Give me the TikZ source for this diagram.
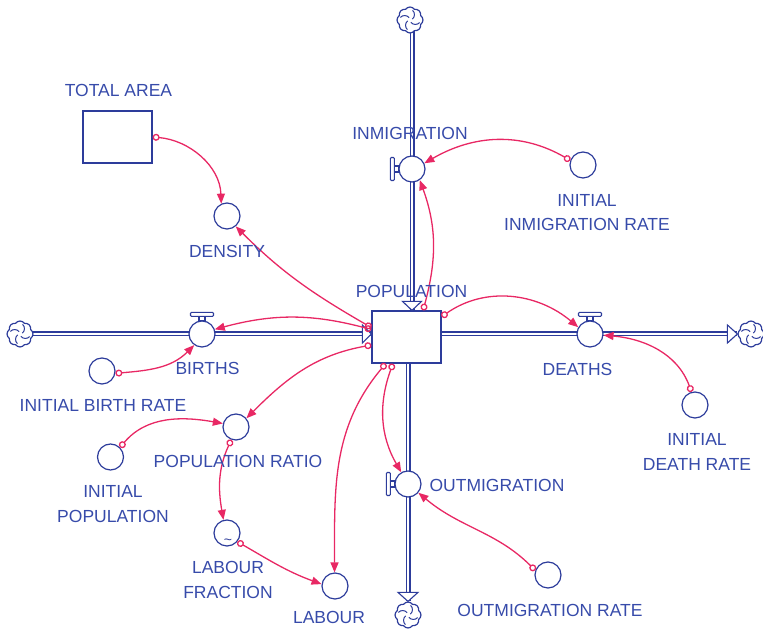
\documentclass[tikz,border=0pt]{standalone}
\usepackage{fontspec}
\setmainfont{Liberation Sans}
\usetikzlibrary{arrows.meta,shapes.symbols,calc}
\definecolor{sdblue}{RGB}{45,60,155}
\definecolor{sdtext}{RGB}{55,75,170}
\definecolor{sdpink}{RGB}{232,40,100}
\pgfdeclarelayer{background}
\pgfsetlayers{background,main}

\begin{document}
\begin{tikzpicture}[x=1pt,y=1pt,
  lbl/.style={text=sdtext, font=\fontsize{17.5}{24.5}\selectfont, inner sep=0pt, align=center},
  stockbox/.style={draw=sdblue, fill=white, line width=1.2pt, minimum width=69pt, minimum height=52pt, inner sep=0pt},
  aux/.style={circle, draw=sdblue, fill=white, line width=1.2pt, minimum size=26pt, inner sep=0pt},
  handle/.style={draw=sdblue, fill=white, line width=1.1pt},
  pipe/.style={draw=sdblue, line width=1.1pt, double=white, double distance=2.8pt},
  flowhead/.style={draw=sdblue, fill=white, line width=1.1pt, line join=miter},
  sink/.style={cloud, cloud puffs=8, cloud puff arc=110, aspect=1, draw=sdblue, fill=white, line width=1.2pt,
    minimum width=26pt, minimum height=26pt, inner sep=0pt,
    path picture={
      \foreach \a in {20,110,200,290}{
        \draw[sdblue, line width=1pt]
          ($(path picture bounding box.center)+(\a:2.5pt)$) to[bend right=50]
          ($(path picture bounding box.center)+(\a+55:10pt)$);
      }}},
  link/.style={draw=sdpink, line width=1.3pt,
    {Circle[open,length=7pt,width=7pt]}-{Triangle[length=10pt,width=8pt]}},
]
\useasboundingbox (0,0) rectangle (763,631);

% stocks
\node[stockbox] (pop) at (406.5,294) {};
\node[stockbox] (tarea) at (117.5,494) {};

% sources and sinks
\node[sink] (cL) at (20,297) {};
\node[sink] (cT) at (410,611) {};
\node[sink] (cR) at (751,297) {};
\node[sink] (cB) at (408,16) {};

% valves
\node[aux] (births) at (202,297) {};
\node[aux] (deaths) at (590,297) {};
\node[aux] (inm) at (412,462) {};
\node[aux] (out) at (408,147) {};

% auxiliaries
\node[aux] (density) at (227,415) {};
\node[aux] (iir) at (583,466) {};
\node[aux] (ibr) at (102,260) {};
\node[aux] (idr) at (695,226) {};
\node[aux] (omr) at (548,56) {};
\node[aux] (pr) at (236,204) {};
\node[aux] (ipop) at (110.5,174) {};
\node[aux] (lf) at (227,98) {};
\node[aux] (lab) at (335,45) {};
\node[text=sdblue, font=\fontsize{14}{14}\selectfont, inner sep=0pt] (lftilde) at ($(lf.center)+(1,-9)$) {\textasciitilde};

% flow end points
\coordinate (tipL) at (pop.west |- births.center);
\coordinate (tipT) at (inm.center |- pop.north);
\coordinate (tipR) at (cR.west);
\coordinate (tipB) at (cB.north);

% pipes
\begin{pgfonlayer}{background}
  \draw[pipe] (cL.center) -- (tipL);
  \draw[pipe] (cT.center -| inm.center) -- (tipT);
  \draw[pipe] (pop.center |- deaths.center) -- (tipR);
  \draw[pipe] (pop.center -| out.center) -- (tipB);
\end{pgfonlayer}

% flow heads
\draw[flowhead] (tipL) -- ++(-9,9) -- ++(0,-18) -- cycle;
\draw[flowhead] (tipT) -- ++(-9.5,9) -- ++(19,0) -- cycle;
\draw[flowhead] (tipR) -- ++(-10,9) -- ++(0,-18) -- cycle;
\draw[flowhead] (tipB) -- ++(-10,9) -- ++(20,0) -- cycle;

% valve handles
\foreach \v in {births,deaths}{
  \draw[handle] ($(\v.north)+(-3,0)$) rectangle ++(6,4);
  \draw[handle, rounded corners=1pt] ($(\v.north)+(-11.5,4)$) rectangle ++(23,4);
}
\foreach \v in {inm,out}{
  \draw[handle] ($(\v.west)+(0,-3)$) rectangle ++(-4,6);
  \draw[handle, rounded corners=1pt] ($(\v.west)+(-4,-11.5)$) rectangle ++(-4,23);
}

% information links
\draw[link] (tarea.east) to[out=-5, in=92] (density.115);
\draw[link] (pop.165) to[out=150, in=-45] (density.-50);
\draw[link] (pop.168) to[out=165, in=15] (births.20);
\draw[link] (ibr.-10) to[out=5, in=-135] (births.-125);
\draw[link] (pop.58) to[out=75, in=-70] (inm.-55);
\draw[link] (iir.160) to[out=150, in=30] (inm.25);
\draw[link] (pop.30) to[out=35, in=140] (deaths.150);
\draw[link] (idr.105) to[out=110, in=-5] (deaths.-5);
\draw[link] (pop.-117) to[out=-110, in=120] (out.120);
\draw[link] (pop.-128) to[out=-130, in=90] (lab.92);
\draw[link] (pop.-167) to[out=-170, in=45] (pr.40);
\draw[link] (ipop.45) to[out=50, in=170] (pr.165);
\draw[link] (pr.-110) to[out=-115, in=100] (lf.105);
\draw[link] (lf.-40) to[out=-30, in=160] (lab.172);
\draw[link] (omr.160) to[out=135, in=-40] (out.-40);

% labels
\node[lbl] (tTA) at (118.5,540.5) {TOTAL AREA};
\node[lbl] (tDEN) at (227,380) {DENSITY};
\node[lbl] (tINM) at (410,498) {INMIGRATION};
\node[lbl] (tIIR) at (587,418.5) {INITIAL\\INMIGRATION RATE};
\node[lbl] (tPOP) at (411.5,339.5) {POPULATION};
\node[lbl] (tBIR) at (207.5,262.5) {BIRTHS};
\node[lbl] (tDEA) at (577.5,261.5) {DEATHS};
\node[lbl] (tIBR) at (103,226) {INITIAL BIRTH RATE};
\node[lbl] (tIDR) at (697,179) {INITIAL\\DEATH RATE};
\node[lbl] (tPR) at (238,170) {POPULATION RATIO};
\node[lbl] (tIPOP) at (113,127) {INITIAL\\POPULATION};
\node[lbl] (tLF) at (228,51) {LABOUR\\FRACTION};
\node[lbl] (tLAB) at (329,14) {LABOUR};
\node[lbl] (tOUT) at (497,146) {OUTMIGRATION};
\node[lbl] (tOMR) at (550,21) {OUTMIGRATION RATE};
\end{tikzpicture}
\end{document}
